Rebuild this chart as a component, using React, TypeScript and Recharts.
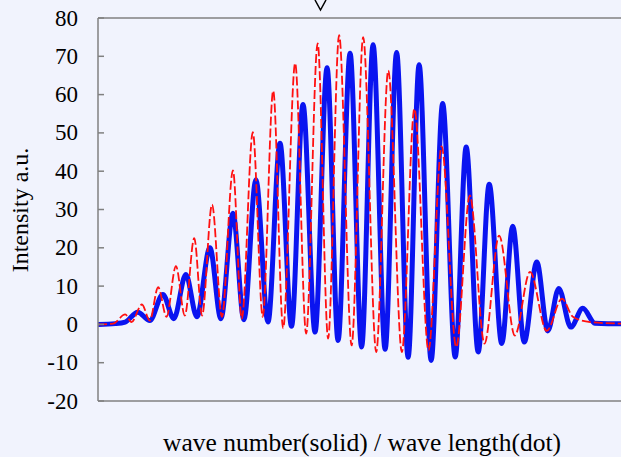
import React from "react";
import { LineChart, Line, XAxis, YAxis, ReferenceLine } from "recharts";

// x positions are in arbitrary units (0..100 across the plot)
const waveNumberX = [
  0, 3.3, 5.2, 7.6, 9.9, 12.4, 14.5, 16.8, 18.9, 21.4, 23.5, 25.8, 27.9, 30.2, 32.5,
  34.8, 37.0, 39.2, 41.5, 43.8, 45.9, 48.2, 50.4, 52.6, 54.9, 57.1, 59.3, 61.4, 63.7,
  65.9, 68.3, 70.4, 72.7, 74.8, 77.2, 79.3, 81.5, 83.9, 86.0, 88.1, 90.4, 92.7, 95.0,
  97.5, 100,
];
const waveNumberY = [
  0, 0.2, 0.6, 3.2, 1, 7.8, 1.5, 13, 2, 20, 1.5, 29, 1.2, 37.8, 0.6,
  47.3, -0.5, 57.4, -2, 67, -4.2, 70.8, -5.9, 73, -6.5, 71, -8.6, 67.8, -9.4,
  57.7, -8.5, 46.3, -7.2, 36.6, -5, 25.6, -4.6, 16.3, -1.7, 9.4, -0.7, 4.2, 0.3,
  0.2, 0.2,
];

const waveLengthX = [
  0, 2.9, 5.2, 6.4, 8.4, 9.9, 11.5, 13.1, 14.9, 16.6, 18.4, 19.9, 21.8, 23.7, 25.8,
  27.5, 29.6, 31.5, 33.5, 35.4, 37.7, 39.8, 42.0, 44.0, 46.1, 48.5, 50.7, 53.2, 55.5,
  58.1, 60.5, 63.2, 65.7, 68.5, 71.1, 73.9, 76.7, 79.7, 82.6, 85.8, 88.7, 90.8, 94.1,
  100,
];
const waveLengthY = [
  0, 0.2, 2.6, 0.6, 5.2, 1, 9.7, 2, 15.2, 2.3, 22.5, 2.3, 31.3, 2, 40.2,
  1.5, 50.2, 2, 61, -1, 68.2, -2.4, 73.4, -3.7, 75.5, -5.5, 75, -7.2, 66.3,
  -7.2, 56.3, -6.8, 46.5, -5.9, 33.7, -5, 23.2, -2.9, 13.7, -1.7, 6.7, 2, 0.6,
  0.2,
];

const yTicks = [-20, -10, 0, 10, 20, 30, 40, 50, 60, 70, 80];

const font = "'Liberation Serif', 'Times New Roman', serif";
const axisGray = "#808080";

const blueData = waveNumberX.map((x, i) => ({ x, y: waveNumberY[i] }));
const redData = waveLengthX.map((x, i) => ({ x, y: waveLengthY[i] }));

const YTick = (props: any) => {
  const { y, payload } = props;
  return (
    <g>
      <line x1={98} x2={104} y1={y} y2={y} stroke={axisGray} strokeWidth={1.5} />
      <text
        x={78}
        y={y}
        textAnchor="end"
        dominantBaseline="central"
        fontSize={23}
        fontFamily={font}
        fill="#000"
      >
        {payload.value}
      </text>
    </g>
  );
};

export default function App() {
  return (
    <div
      style={{
        position: "absolute",
        left: 0,
        top: 0,
        width: 621,
        height: 457,
        background: "#F1F3FD",
        overflow: "hidden",
      }}
    >
      <LineChart width={621} height={457} margin={{ top: 18, right: 0, bottom: 0, left: 0 }}>
        <XAxis
          type="number"
          dataKey="x"
          domain={[0, 100]}
          allowDataOverflow
          tick={false}
          tickLine={false}
          axisLine={{ stroke: axisGray, strokeWidth: 1.5 }}
          height={56}
          label={{
            content: () => (
              <text
                x={362}
                y={442}
                textAnchor="middle"
                dominantBaseline="central"
                fontSize={25.5}
                fontFamily={font}
                fill="#000"
              >
                wave number(solid) / wave length(dot)
              </text>
            ),
          }}
        />
        <YAxis
          type="number"
          domain={[-20, 80]}
          ticks={yTicks}
          interval={0}
          width={98}
          tickLine={false}
          tick={<YTick />}
          axisLine={{ stroke: axisGray, strokeWidth: 1.5 }}
          label={{
            content: () => (
              <text
                x={20}
                y={210}
                transform="rotate(-90 20 210)"
                textAnchor="middle"
                dominantBaseline="central"
                fontSize={24}
                fontFamily={font}
                fill="#000"
              >
                Intensity a.u.
              </text>
            ),
          }}
        />
        <ReferenceLine y={80} stroke={axisGray} strokeWidth={1.5} />
        <Line
          data={blueData}
          dataKey="y"
          type="monotone"
          stroke="#0A14F0"
          strokeWidth={5}
          dot={false}
          isAnimationActive={false}
        />
        <Line
          data={redData}
          dataKey="y"
          type="monotone"
          stroke="#FF1010"
          strokeWidth={1.8}
          strokeDasharray="9 3"
          dot={false}
          isAnimationActive={false}
        />
      </LineChart>
      <svg
        width={621}
        height={20}
        style={{ position: "absolute", left: 0, top: 0, pointerEvents: "none" }}
      >
        <polyline points="315,0 320.5,10 326,0" fill="none" stroke="#000" strokeWidth={1.5} />
      </svg>
    </div>
  );
}
